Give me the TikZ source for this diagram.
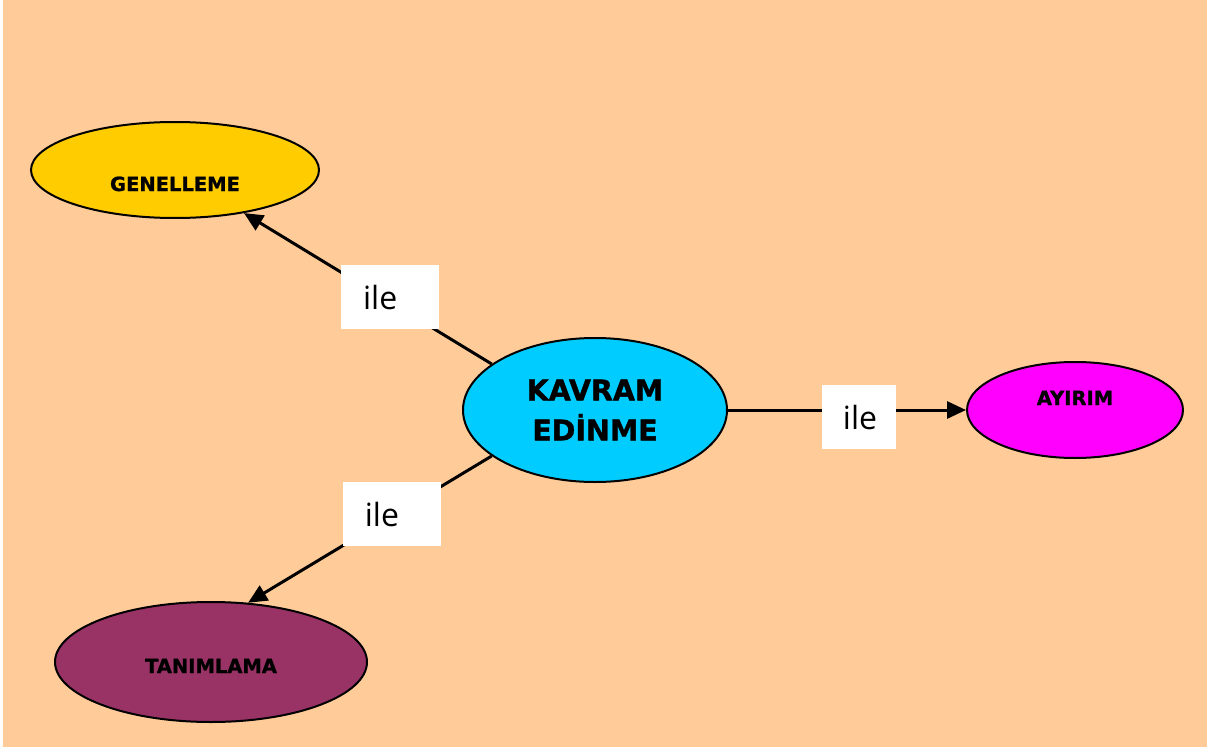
\documentclass[tikz,border=0pt]{standalone}
\usepackage{fontspec}
\usepackage{tikz}
\usetikzlibrary{arrows.meta, shapes.geometric, positioning}
\newfontfamily\balonfont[BoldFont={DejaVu Sans Bold}, BoldFeatures={FakeBold=1.2}]{DejaVu Sans}
\newfontfamily\ilefont{Open Sans}
\definecolor{seftali}{HTML}{FFCC99}
\definecolor{sari}{HTML}{FFCC00}
\definecolor{mavi}{HTML}{00CCFF}
\definecolor{pembe}{HTML}{FF00FF}
\definecolor{mor}{HTML}{993366}

\begin{document}
\begin{tikzpicture}[x=1pt, y=-1pt,
    balon/.style={ellipse, draw=black, line width=2pt, inner sep=0pt,
                  font=\balonfont\bfseries\fontsize{19.5}{22}\selectfont},
    kutu/.style={fill=white, inner xsep=22pt, inner ysep=0pt, text width=54pt,
                 minimum height=64pt, align=left,
                 font=\ilefont\fontsize{32}{34}\selectfont},
    ok/.style={line width=3pt, -{Triangle[length=19pt,width=17pt]}}]
      \useasboundingbox (0,0) rectangle (1207,749);
      % --- Hintergrund ---
      \fill[white] (0,0) rectangle (1207,749);
      \fill[seftali] (3,0) rectangle (1207,746.5);

      % --- Kavramlar ---
      \node[balon, fill=mavi, minimum width=264pt, minimum height=144pt,
            align=center, font=\balonfont\bfseries\fontsize{28.5}{40}\selectfont]
            (kavram) at (595,410) {KAVRAM\\EDİNME};
      \node[balon, fill=sari, minimum width=288pt, minimum height=96pt,
            text height=42pt, text depth=0pt] (genelleme) at (175,170) {GENELLEME};
      \node[balon, fill=mor, minimum width=312pt, minimum height=120pt,
            text height=22pt, text depth=0pt] (tanimlama) at (211,662) {TANIMLAMA};
      \node[balon, fill=pembe, minimum width=216pt, minimum height=96pt,
            text height=14pt, text depth=24pt] (ayirim) at (1075,410) {AYIRIM};

      % --- Oklar ---
      \draw[ok] (kavram.156) -- node[kutu, pos=0.41, yshift=5pt] (ile1) {ile} (genelleme.-32);
      \draw[ok] (kavram.204) -- node[kutu, pos=0.41, yshift=2pt] (ile2) {ile} (tanimlama.58);
      \draw[ok] (kavram.east) -- node[kutu, pos=0.55, yshift=-7pt, text width=32pt,
            inner xsep=21pt] (ile3) {ile} (ayirim.west);
\end{tikzpicture}
\end{document}
